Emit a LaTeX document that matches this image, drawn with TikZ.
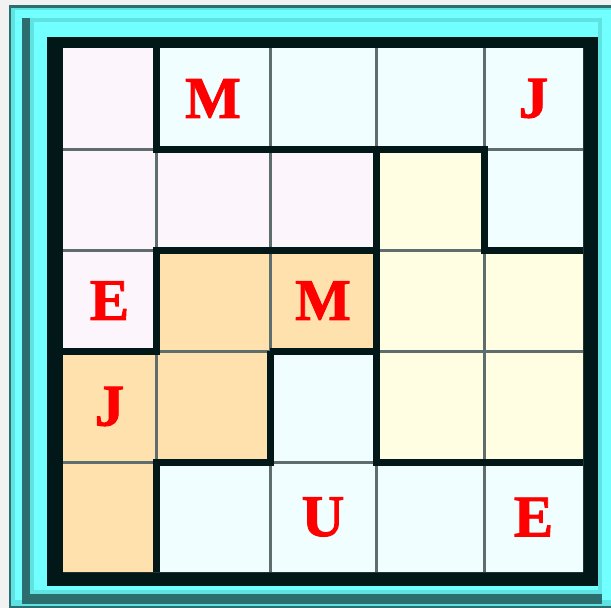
\documentclass[tikz,border=0pt]{standalone}
\usepackage{fontspec}
\newfontfamily\gridfont{Liberation Serif}[BoldFeatures={FakeBold=1.5}]
\usetikzlibrary{calc}

\definecolor{bggrey}{HTML}{F2F2F2}
\definecolor{rimteal}{HTML}{2C6E6E}
\definecolor{rimcyan}{HTML}{5EE2E2}
\definecolor{rimbright}{HTML}{72FFFF}
\definecolor{rimblack}{HTML}{021818}
\definecolor{gridgrey}{HTML}{5E6E6E}
\definecolor{cellpink}{HTML}{FDF5FC}
\definecolor{cellcyan}{HTML}{F0FEFF}
\definecolor{cellyellow}{HTML}{FFFEE3}
\definecolor{cellorange}{HTML}{FFE1AD}

\begin{document}
\begin{tikzpicture}[
  x=1pt, y=-1pt,
  thingrid/.style={draw=gridgrey, line width=3pt},
  region/.style={draw=rimblack, line width=7pt, line cap=square},
  letter/.style={text=red, inner sep=0pt, font=\gridfont\bfseries\fontsize{59}{59}\selectfont}
]
  \fill[bggrey] (0,0) rectangle (611,608);
  \useasboundingbox (0,0) rectangle (611,608);

  \fill[rimteal] (9,5) rectangle (611,608);
  \fill[rimcyan] (11,8) rectangle (611,606);
  \fill[rimbright] (15,10) rectangle (611,600);
  \fill[rimteal] (22,18) rectangle (602,604);
  \fill[rimcyan] (30,18) rectangle (602,594);
  \fill[rimbright] (34,22) rectangle (598,590);
  \fill[rimblack] (47,37) rectangle (598,586);

  \foreach \i/\x in {0/63,1/156,2/270,3/376,4/484,5/583}
    \foreach \j/\y in {0/48,1/149,2/250,3/351,4/462,5/572}
      \coordinate (p\i\j) at (\x,\y);

  \fill[cellpink] (p00) -- (p10) -- (p11) -- (p31) -- (p32) -- (p12) -- (p13) -- (p03) -- cycle;
  \fill[cellcyan] (p10) -- (p50) -- (p52) -- (p42) -- (p41) -- (p11) -- cycle;
  \fill[cellyellow] (p31) -- (p41) -- (p42) -- (p52) -- (p54) -- (p34) -- cycle;
  \fill[cellorange] (p12) -- (p32) -- (p33) -- (p23) -- (p24) -- (p14) -- (p15) -- (p05) -- (p03) -- (p13) -- cycle;
  \fill[cellcyan] (p23) -- (p33) -- (p34) -- (p54) -- (p55) -- (p15) -- (p14) -- (p24) -- cycle;

  \foreach \k in {1,...,4} {
    \draw[thingrid] (p\k0) -- (p\k5);
    \draw[thingrid] (p0\k) -- (p5\k);
  }

  \draw[region] (p10) -- (p11) -- (p41) -- (p42) -- (p52);
  \draw[region] (p31) -- (p34) -- (p54);
  \draw[region] (p03) -- (p13) -- (p12) -- (p32);
  \draw[region] (p23) -- (p33);
  \draw[region] (p23) -- (p24) -- (p14) -- (p15);

  \node[letter] (m1) at ($(p10)!0.5!(p21)$) {M};
  \node[letter] (j1) at ($(p40)!0.5!(p51)$) {J};
  \node[letter] (e1) at ($(p02)!0.5!(p13)$) {E};
  \node[letter] (m2) at ($(p22)!0.5!(p33)$) {M};
  \node[letter] (j2) at ($(p03)!0.5!(p14)$) {J};
  \node[letter] (u1) at ($(p24)!0.5!(p35)$) {U};
  \node[letter] (e2) at ($(p44)!0.5!(p55)$) {E};
\end{tikzpicture}
\end{document}
